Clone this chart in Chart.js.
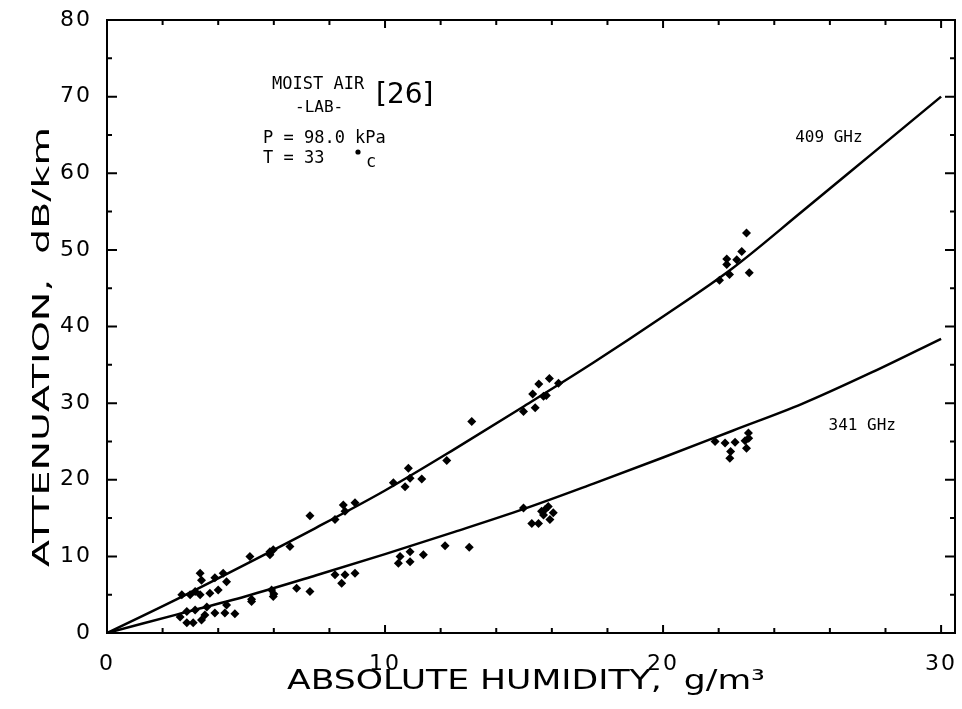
<!DOCTYPE html>
<html>
<head>
<meta charset="utf-8">
<script src="https://cdn.jsdelivr.net/npm/chart.js@4/dist/chart.umd.min.js"></script>
<style>
  html, body { margin: 0; padding: 0; background: #fff; }
  #wrap { width: 962px; height: 709px; }
</style>
</head>
<body>
<div id="wrap"><canvas id="myChart" width="962" height="709"></canvas></div>
<script>
// fitted curves
const curveX = [0, 2.5, 5, 7.5, 10, 12.5, 15, 17.5, 20, 22.5, 25, 27.5, 30];
const curve409 = [0, 4.4, 9.0, 13.7, 18.6, 24.0, 29.6, 35.3, 41.3, 47.6, 55.0, 62.5, 70.0];
const curve341 = [0, 2.4, 4.8, 7.5, 10.3, 13.2, 16.2, 19.5, 22.9, 26.4, 29.9, 34.0, 38.4];

// measured points, 409 GHz
const meas409X = [2.69, 2.99, 3.17, 3.35, 3.4, 3.35, 3.88, 4.18, 4.3, 5.14, 5.86, 5.98, 5.86, 6.58,
  7.3, 8.2, 8.5, 8.56, 8.92, 10.3, 10.72, 10.84, 10.9, 11.32, 12.22, 13.12, 14.98, 15.31, 15.4,
  15.53, 15.7, 15.8, 15.91, 16.24, 22.03, 22.29, 22.29, 22.39, 22.65, 22.83, 23.0, 23.1];
const meas409Y = [5.0, 5.0, 5.4, 7.8, 6.9, 5.0, 7.2, 7.8, 6.7, 10.0, 10.6, 10.85, 10.2, 11.3,
  15.3, 14.8, 16.7, 15.9, 17.0, 19.6, 19.1, 21.5, 20.2, 20.1, 22.5, 27.6, 28.9, 31.2, 29.4,
  32.5, 30.9, 31.0, 33.2, 32.6, 46.05, 48.8, 48.1, 46.8, 48.7, 49.8, 52.2, 47.0];

// measured points, 341 GHz
const meas341X = [2.63, 2.87, 2.87, 3.1, 3.17, 3.4, 3.52, 3.59, 3.7, 3.88, 4.0, 4.24, 4.3, 4.6,
  5.2, 5.2, 5.92, 5.98, 6.0, 6.82, 7.3, 8.2, 8.44, 8.56, 8.92, 10.48, 10.54, 10.9, 10.9, 11.38,
  12.16, 13.03, 14.98, 15.28, 15.52, 15.63, 15.7, 15.75, 15.87, 15.93, 16.05, 21.87, 22.23, 22.4,
  22.43, 22.59, 22.95, 23.0, 23.07, 23.08];
const meas341Y = [2.1, 2.8, 1.35, 1.35, 3.0, 1.7, 2.35, 3.4, 5.2, 2.6, 5.6, 2.6, 3.65, 2.5,
  4.1, 4.4, 5.6, 4.75, 5.1, 5.85, 5.4, 7.6, 6.5, 7.6, 7.8, 9.1, 10.0, 10.6, 9.3, 10.2,
  11.4, 11.2, 16.3, 14.3, 14.3, 15.9, 15.4, 16.1, 16.5, 14.8, 15.7, 25.0, 24.8, 22.8,
  23.7, 24.9, 25.1, 24.1, 26.1, 25.4];

const xTickLabels = [0, 10, 20, 30];

function pairs(xs, ys) {
    return xs.map((x, i) => ({ x: x, y: ys[i] }));
}

const mono = '"DejaVu Sans Mono", monospace';
const sans = '"DejaVu Sans", sans-serif';

// wide lettering of the scanned figure: stretched to a given length
function wideText(ctx, text, cx, cy, font, targetW, angle) {
    ctx.save();
    ctx.font = font;
    ctx.letterSpacing = '0px';
    const w = ctx.measureText(text).width;
    ctx.translate(cx, cy);
    ctx.rotate(angle);
    ctx.scale(targetW / w, 1);
    ctx.textAlign = 'center';
    ctx.textBaseline = 'middle';
    ctx.fillText(text, 0, 0);
    ctx.restore();
}

// box with inward ticks on all four sides + text notes
const framePlugin = {
    id: 'frame',
    beforeDraw(chart) {
        chart.ctx.letterSpacing = '2px';
    },
    beforeDatasetsDraw(chart) {
        chart.ctx.letterSpacing = '0px';
    },
    afterDraw(chart) {
        const ctx = chart.ctx;
        const a = chart.chartArea;
        const xs = chart.scales.x;
        const ys = chart.scales.y;
        ctx.save();
        ctx.letterSpacing = '0px';
        ctx.strokeStyle = '#000';
        ctx.lineWidth = 2;
        ctx.strokeRect(a.left, a.top, a.right - a.left, a.bottom - a.top);
        ctx.beginPath();
        for (let v = 0; v <= 30; v += 2) {
            const px = xs.getPixelForValue(v);
            const len = v % 10 === 0 ? 8 : 5;
            ctx.moveTo(px, a.bottom); ctx.lineTo(px, a.bottom - len);
            ctx.moveTo(px, a.top); ctx.lineTo(px, a.top + len);
        }
        for (let v = 5; v < 80; v += 5) {
            const py = ys.getPixelForValue(v);
            const len = v % 10 === 0 ? 10 : 5;
            ctx.moveTo(a.left, py); ctx.lineTo(a.left + len, py);
            ctx.moveTo(a.right, py); ctx.lineTo(a.right - len, py);
        }
        ctx.stroke();

        ctx.fillStyle = '#000';
        // axis titles
        wideText(ctx, 'ABSOLUTE HUMIDITY,  g/m\u00B3', (a.left + a.right) / 2 - 5, 682,
            '27px ' + sans, 478, 0);
        wideText(ctx, 'ATTENUATION,  dB/km', 43, 347, '23px ' + sans, 440, -Math.PI / 2);

        ctx.textBaseline = 'middle';
        ctx.textAlign = 'left';
        ctx.font = '17px ' + mono;
        ctx.fillText('MOIST AIR', 272, 85);
        ctx.font = '16px ' + mono;
        ctx.fillText('-LAB-', 295, 108);
        ctx.font = '17px ' + mono;
        ctx.fillText('P = 98.0 kPa', 263, 139);
        ctx.fillText('T = 33', 263, 159);
        ctx.fillText('c', 366, 163);
        ctx.beginPath();
        ctx.arc(358, 152, 2.6, 0, Math.PI * 2);
        ctx.fill();
        ctx.font = '28px ' + sans;
        ctx.fillText('[26]', 376, 96);
        ctx.font = '16px ' + mono;
        ctx.fillText('409 GHz', xs.getPixelForValue(24.75), ys.getPixelForValue(64.6));
        ctx.fillText('341 GHz', xs.getPixelForValue(25.95), ys.getPixelForValue(27.0));
        ctx.restore();
    }
};

const data = {
    datasets: [{
        type: 'line',
        label: '409 GHz',
        data: pairs(curveX, curve409),
        borderColor: '#000',
        borderWidth: 2.5,
        pointRadius: 0,
        cubicInterpolationMode: 'monotone',
        fill: false
    }, {
        type: 'line',
        label: '341 GHz',
        data: pairs(curveX, curve341),
        borderColor: '#000',
        borderWidth: 2.5,
        pointRadius: 0,
        cubicInterpolationMode: 'monotone',
        fill: false
    }, {
        type: 'scatter',
        label: '409 GHz data',
        data: pairs(meas409X, meas409Y),
        pointStyle: 'rectRot',
        pointRadius: 4.5,
        backgroundColor: '#000',
        borderColor: '#000',
        borderWidth: 0
    }, {
        type: 'scatter',
        label: '341 GHz data',
        data: pairs(meas341X, meas341Y),
        pointStyle: 'rectRot',
        pointRadius: 4.5,
        backgroundColor: '#000',
        borderColor: '#000',
        borderWidth: 0
    }]
};

const config = {
    type: 'scatter',
    data,
    options: {
        responsive: false,
        animation: false,
        layout: { padding: { top: 20, right: 7, left: 0, bottom: 0 } },
        plugins: {
            legend: { display: false },
            tooltip: { enabled: false }
        },
        scales: {
            x: {
                type: 'linear',
                min: 0,
                max: 30.5,
                afterFit(scale) {
                    scale.height = 76;
                    scale.paddingLeft = 0;
                    scale.paddingRight = 0;
                },
                grid: { display: false, drawTicks: false },
                border: { display: false },
                ticks: {
                    stepSize: 10,
                    includeBounds: false,
                    padding: 18,
                    color: '#000',
                    font: { family: sans, size: 22 },
                    callback: (v) => xTickLabels.includes(v) ? String(v) : ''
                }
            },
            y: {
                type: 'linear',
                min: 0,
                max: 80,
                afterFit(scale) {
                    scale.width = 107;
                    scale.paddingTop = 0;
                    scale.paddingBottom = 0;
                },
                grid: { display: false, drawTicks: false },
                border: { display: false },
                ticks: {
                    stepSize: 10,
                    padding: 15,
                    color: '#000',
                    font: { family: sans, size: 22 }
                }
            }
        }
    },
    plugins: [framePlugin]
};

var myChart = new Chart(
    document.getElementById('myChart'),
    config
);
</script>
</body>
</html>
